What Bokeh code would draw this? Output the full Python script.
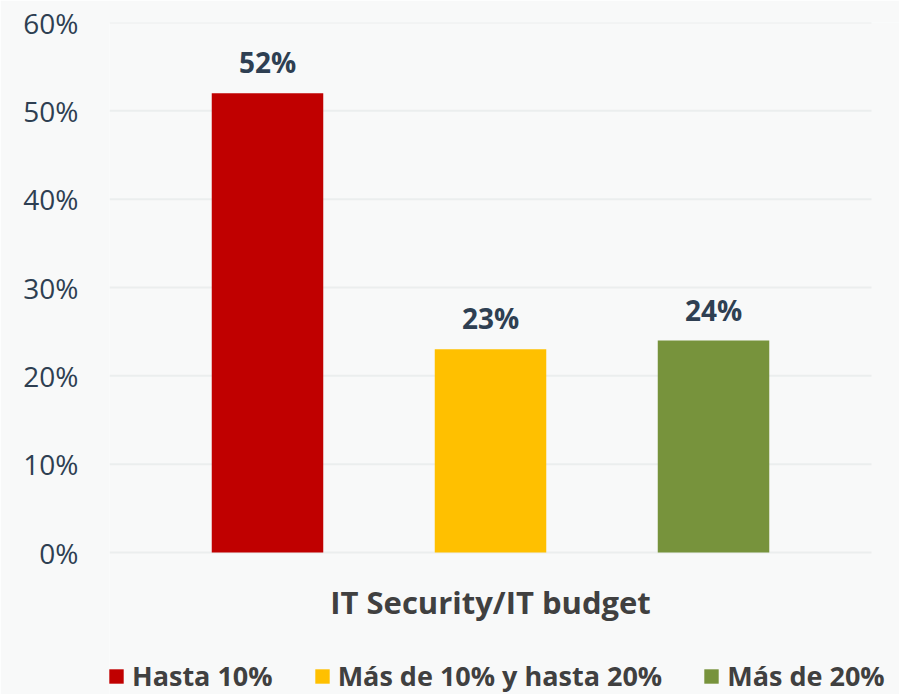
from bokeh.plotting import figure
from bokeh.models import (ColumnDataSource, Range1d, FixedTicker, NumeralTickFormatter,
                          LabelSet, Label, Legend, LegendItem)
from bokeh.core.properties import value
from bokeh.embed import file_html
from bokeh.resources import INLINE

# ---- data ----
categories = ["Hasta 10%", "Más de 10% y hasta 20%", "Más de 20%"]
values = [0.52, 0.23, 0.24]
value_labels = ["52%", "23%", "24%"]
colors = ["#C00000", "#FFC000", "#77933C"]
y_ticks = [0.0, 0.1, 0.2, 0.3, 0.4, 0.5, 0.6]
x_title = "IT Security/IT budget"

BG = "#F8F9F9"
TICK_COLOR = "#2E3F52"
TEXT_DARK = "#404040"
GRID = "#EBEEEE"

# frame extends below zero and to the right edge so the title and legend fit in it
PAD = 0.7085
Y_MIN = -0.16075
p = figure(width=899, height=694, output_backend="svg", toolbar_location=None,
           x_range=Range1d(-PAD, 2.834), y_range=Range1d(Y_MIN, 0.6),
           min_border_left=109, min_border_top=22, min_border_right=0,
           min_border_bottom=0)
p.background_fill_color = BG
p.border_fill_color = BG
p.outline_line_color = None
p.xaxis.visible = False
p.xgrid.grid_line_color = None
p.ygrid.grid_line_color = None

xs = list(range(len(categories)))

# horizontal gridlines at the tick values
p.segment(x0=[-PAD] * len(y_ticks), x1=[xs[-1] + PAD] * len(y_ticks),
          y0=y_ticks, y1=y_ticks, line_color=GRID, line_width=2)

src = ColumnDataSource(dict(x=xs, top=values, color=colors, cat=categories, lab=value_labels))

renderers = []
for i in range(len(categories)):
    s = ColumnDataSource(dict(x=[xs[i]], top=[values[i]]))
    r = p.vbar(x="x", top="top", width=0.5, bottom=0, source=s,
               fill_color=colors[i], line_color=None)
    renderers.append(r)

labels = LabelSet(x="x", y="top", text="lab", source=src, text_align="center",
                  text_baseline="alphabetic", y_offset=20,
                  text_font=value("Open Sans"), text_font_style="bold",
                  text_font_size="28px", text_color=TICK_COLOR)
p.add_layout(labels)

# y axis
p.yaxis.ticker = FixedTicker(ticks=y_ticks)
p.yaxis.formatter = NumeralTickFormatter(format="0%")
p.yaxis.axis_line_color = None
p.yaxis.major_tick_line_color = None
p.yaxis.minor_tick_line_color = None
p.yaxis.major_label_standoff = 25
p.yaxis.major_label_text_font = "Open Sans"
p.yaxis.major_label_text_font_size = "28px"
p.yaxis.major_label_text_color = TICK_COLOR

# axis title (below the bars)
title = Label(x=1, y=-0.0555, text=x_title, text_align="center",
              text_baseline="alphabetic", text_font="Open Sans",
              text_font_style="bold", text_font_size="31px", text_color=TEXT_DARK)
p.add_layout(title)

legend = Legend(items=[LegendItem(label=categories[i], renderers=[renderers[i]])
                       for i in range(len(categories))],
                orientation="horizontal", location=(-2, 0),
                glyph_width=18, glyph_height=18, label_standoff=7, spacing=40,
                label_text_font="Open Sans", label_text_font_style="bold",
                label_text_font_size="27px", label_text_color=TEXT_DARK,
                border_line_color=None, background_fill_alpha=0,
                padding=0, margin=0)
p.add_layout(legend)

open("out.html", "w").write(file_html(p, INLINE))
